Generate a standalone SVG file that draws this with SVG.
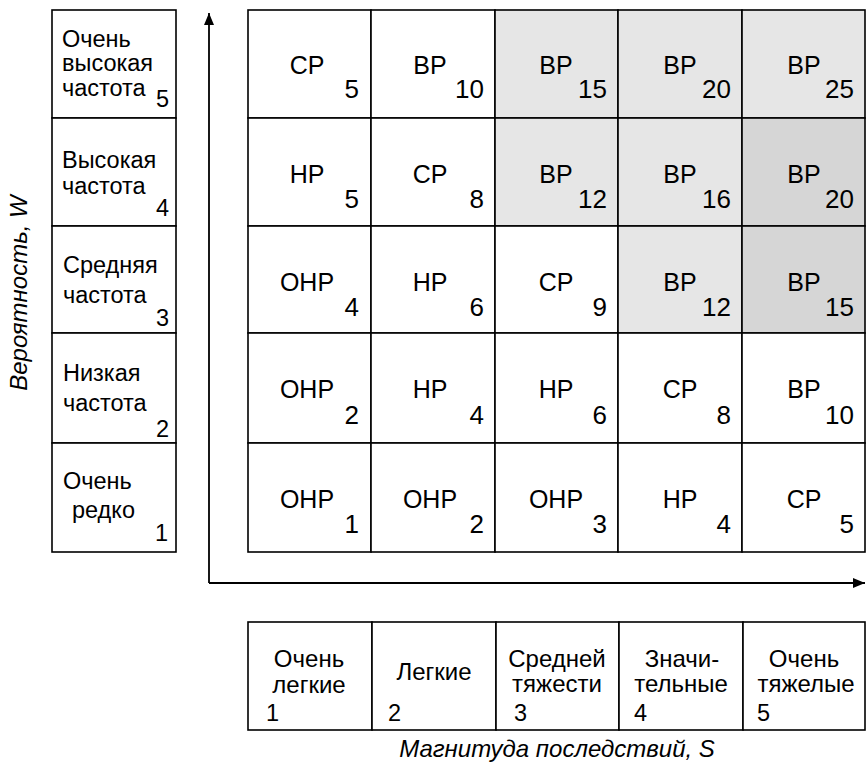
<svg xmlns="http://www.w3.org/2000/svg" width="866" height="772" viewBox="0 0 866 772">
<style>
.box{fill:#fff;stroke:#000;stroke-width:1.6}
.s1{fill:#e6e6e6;stroke:#000;stroke-width:1.6}
.s2{fill:#d6d6d6;stroke:#000;stroke-width:1.6}
.lbl{font-family:"Liberation Sans",Arial,sans-serif;font-size:25px;fill:#000;text-anchor:middle}
.num{font-family:"Liberation Sans",Arial,sans-serif;font-size:26px;fill:#000;text-anchor:end}
.side{font-family:"Liberation Sans",Arial,sans-serif;font-size:23.5px;fill:#000}
.sn{font-family:"Liberation Sans",Arial,sans-serif;font-size:23.5px;fill:#000;text-anchor:end}
.bot{font-family:"Liberation Sans",Arial,sans-serif;font-size:24px;fill:#000;text-anchor:middle}
.axis{font-family:"Liberation Sans",Arial,sans-serif;font-size:24px;font-style:italic;fill:#000;text-anchor:middle}
.ax{stroke:#000;stroke-width:1.8;fill:none}
</style>
<defs>
<marker id="arr" markerWidth="12" markerHeight="10" refX="12" refY="5" orient="auto" markerUnits="userSpaceOnUse">
<path d="M0,0 L12,5 L0,10 Z" fill="#000"/>
</marker>
</defs>

<g id="connectors">
<path class="ax" d="M209,583 L209,13" marker-end="url(#arr)"/>
<path class="ax" d="M209,583 L865,583" marker-end="url(#arr)"/>
</g>

<text class="axis" transform="translate(27,293) rotate(-90)">Вероятность, W</text>
<text class="axis" x="557" y="757">Магнитуда последствий, S</text>

<!-- Left column: probability -->
<g id="w5"><rect class="box" x="52" y="10" width="124" height="108"/>
<text class="side" x="62" y="47">Очень</text><text class="side" x="62" y="71">высокая</text><text class="side" x="62" y="96">частота</text><text class="sn" x="169" y="107">5</text></g>
<g id="w4"><rect class="box" x="52" y="118" width="124" height="108"/>
<text class="side" x="62" y="168">Высокая</text><text class="side" x="62" y="194">частота</text><text class="sn" x="169" y="216">4</text></g>
<g id="w3"><rect class="box" x="52" y="226" width="124" height="107"/>
<text class="side" x="63" y="273">Средняя</text><text class="side" x="63" y="303">частота</text><text class="sn" x="169" y="326">3</text></g>
<g id="w2"><rect class="box" x="52" y="333" width="124" height="110"/>
<text class="side" x="63" y="381">Низкая</text><text class="side" x="63" y="411">частота</text><text class="sn" x="169" y="437">2</text></g>
<g id="w1"><rect class="box" x="52" y="443" width="124" height="109"/>
<text class="side" x="63" y="489">Очень</text><text class="side" x="72" y="518">редко</text><text class="sn" x="168" y="541">1</text></g>

<!-- Matrix row W=5 -->
<g id="c5-1"><rect class="box" x="248" y="10" width="123" height="108"/><text class="lbl" x="307" y="74">СР</text><text class="num" x="359" y="98">5</text></g>
<g id="c5-2"><rect class="box" x="371" y="10" width="124" height="108"/><text class="lbl" x="430" y="74">ВР</text><text class="num" x="484" y="98">10</text></g>
<g id="c5-3"><rect class="s1" x="495" y="10" width="123" height="108"/><text class="lbl" x="556" y="74">ВР</text><text class="num" x="607" y="98">15</text></g>
<g id="c5-4"><rect class="s1" x="618" y="10" width="124" height="108"/><text class="lbl" x="680" y="74">ВР</text><text class="num" x="731" y="98">20</text></g>
<g id="c5-5"><rect class="s1" x="742" y="10" width="123" height="108"/><text class="lbl" x="804" y="74">ВР</text><text class="num" x="854" y="98">25</text></g>

<!-- Row W=4 -->
<g id="c4-1"><rect class="box" x="248" y="118" width="123" height="108"/><text class="lbl" x="307" y="183">НР</text><text class="num" x="359" y="208">5</text></g>
<g id="c4-2"><rect class="box" x="371" y="118" width="124" height="108"/><text class="lbl" x="430" y="183">СР</text><text class="num" x="484" y="208">8</text></g>
<g id="c4-3"><rect class="s1" x="495" y="118" width="123" height="108"/><text class="lbl" x="556" y="183">ВР</text><text class="num" x="607" y="208">12</text></g>
<g id="c4-4"><rect class="s1" x="618" y="118" width="124" height="108"/><text class="lbl" x="680" y="183">ВР</text><text class="num" x="731" y="208">16</text></g>
<g id="c4-5"><rect class="s2" x="742" y="118" width="123" height="108"/><text class="lbl" x="804" y="183">ВР</text><text class="num" x="854" y="208">20</text></g>

<!-- Row W=3 -->
<g id="c3-1"><rect class="box" x="248" y="226" width="123" height="107"/><text class="lbl" x="307" y="291">ОНР</text><text class="num" x="359" y="316">4</text></g>
<g id="c3-2"><rect class="box" x="371" y="226" width="124" height="107"/><text class="lbl" x="430" y="291">НР</text><text class="num" x="484" y="316">6</text></g>
<g id="c3-3"><rect class="box" x="495" y="226" width="123" height="107"/><text class="lbl" x="556" y="291">СР</text><text class="num" x="607" y="316">9</text></g>
<g id="c3-4"><rect class="s1" x="618" y="226" width="124" height="107"/><text class="lbl" x="680" y="291">ВР</text><text class="num" x="731" y="316">12</text></g>
<g id="c3-5"><rect class="s2" x="742" y="226" width="123" height="107"/><text class="lbl" x="804" y="291">ВР</text><text class="num" x="854" y="316">15</text></g>

<!-- Row W=2 -->
<g id="c2-1"><rect class="box" x="248" y="333" width="123" height="110"/><text class="lbl" x="307" y="398">ОНР</text><text class="num" x="359" y="424">2</text></g>
<g id="c2-2"><rect class="box" x="371" y="333" width="124" height="110"/><text class="lbl" x="430" y="398">НР</text><text class="num" x="484" y="424">4</text></g>
<g id="c2-3"><rect class="box" x="495" y="333" width="123" height="110"/><text class="lbl" x="556" y="398">НР</text><text class="num" x="607" y="424">6</text></g>
<g id="c2-4"><rect class="box" x="618" y="333" width="124" height="110"/><text class="lbl" x="680" y="398">СР</text><text class="num" x="731" y="424">8</text></g>
<g id="c2-5"><rect class="box" x="742" y="333" width="123" height="110"/><text class="lbl" x="804" y="398">ВР</text><text class="num" x="854" y="424">10</text></g>

<!-- Row W=1 -->
<g id="c1-1"><rect class="box" x="248" y="443" width="123" height="109"/><text class="lbl" x="307" y="508">ОНР</text><text class="num" x="359" y="533">1</text></g>
<g id="c1-2"><rect class="box" x="371" y="443" width="124" height="109"/><text class="lbl" x="430" y="508">ОНР</text><text class="num" x="484" y="533">2</text></g>
<g id="c1-3"><rect class="box" x="495" y="443" width="123" height="109"/><text class="lbl" x="556" y="508">ОНР</text><text class="num" x="607" y="533">3</text></g>
<g id="c1-4"><rect class="box" x="618" y="443" width="124" height="109"/><text class="lbl" x="680" y="508">НР</text><text class="num" x="731" y="533">4</text></g>
<g id="c1-5"><rect class="box" x="742" y="443" width="123" height="109"/><text class="lbl" x="804" y="508">СР</text><text class="num" x="854" y="533">5</text></g>

<!-- Bottom row: magnitude -->
<g id="s1"><rect class="box" x="248" y="622" width="124" height="108"/>
<text class="bot" x="309" y="667">Очень</text><text class="bot" x="309" y="693">легкие</text><text class="side" x="266" y="721">1</text></g>
<g id="s2"><rect class="box" x="372" y="622" width="124" height="108"/>
<text class="bot" x="434" y="680">Легкие</text><text class="side" x="388" y="721">2</text></g>
<g id="s3"><rect class="box" x="496" y="622" width="123" height="108"/>
<text class="bot" x="557" y="667">Средней</text><text class="bot" x="557" y="692">тяжести</text><text class="side" x="514" y="721">3</text></g>
<g id="s4"><rect class="box" x="619" y="622" width="124" height="108"/>
<text class="bot" x="682" y="667">Значи-</text><text class="bot" x="681" y="692">тельные</text><text class="side" x="634" y="721">4</text></g>
<g id="s5"><rect class="box" x="743" y="622" width="122" height="108"/>
<text class="bot" x="804" y="667">Очень</text><text class="bot" x="806" y="692">тяжелые</text><text class="side" x="757" y="721">5</text></g>
</svg>
